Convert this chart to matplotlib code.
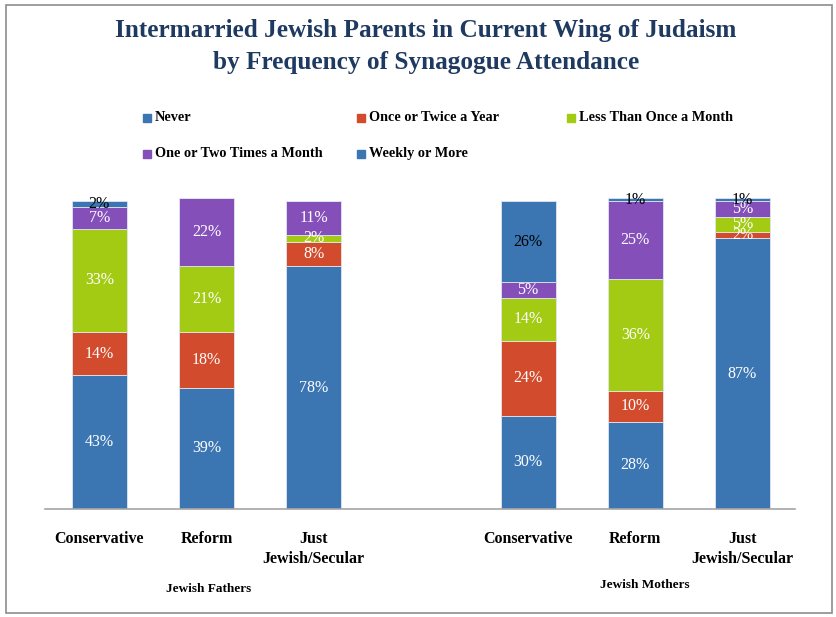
import matplotlib
matplotlib.use("Agg")
import matplotlib.pyplot as plt
from matplotlib.patches import Rectangle

# Stack order bottom to top
series = ["Never", "Once or Twice a Year", "Less Than Once a Month",
          "One or Two Times a Month", "Weekly or More"]
colors = ["#3B76B3", "#D34B2D", "#A3CB14", "#854FBA", "#3B76B3"]
label_colors = ["white", "white", "white", "white", "black"]

categories = ["Conservative", "Reform", "Just\nJewish/Secular",
              "Conservative", "Reform", "Just\nJewish/Secular"]
positions = [0, 1, 2, 4, 5, 6]
groups = ["Jewish Fathers", "Jewish Mothers"]

never = [43, 39, 78, 30, 28, 87]
once_twice_year = [14, 18, 8, 24, 10, 2]
less_than_monthly = [33, 21, 2, 14, 36, 5]
one_two_monthly = [7, 22, 11, 5, 25, 5]
weekly = [2, 0, 0, 26, 1, 1]
values = [never, once_twice_year, less_than_monthly, one_two_monthly, weekly]

SERIF = ["Liberation Serif", "DejaVu Serif"]

fig = plt.figure(figsize=(8.37, 6.17), dpi=100)
ax = fig.add_axes([0.0538, 0.175, 0.896, 0.5041])

bottoms = [0] * len(positions)
for vals, col, lcol in zip(values, colors, label_colors):
    ax.bar(positions, vals, width=0.513, bottom=bottoms, color=col,
           edgecolor="#dfe6ee", linewidth=0.6)
    for x, b, v in zip(positions, bottoms, vals):
        if v > 0:
            ax.text(x, b + v / 2, f"{v}%", ha="center", va="center",
                    color=lcol, fontsize=11.5, family=SERIF, clip_on=False)
    bottoms = [b + v for b, v in zip(bottoms, vals)]

ax.set_xlim(-0.506, 6.49)
ax.set_ylim(0, 100)
ax.set_yticks([])
ax.set_xticks(positions)
ax.set_xticklabels(categories, family=SERIF, fontweight="bold", fontsize=11.5,
                   linespacing=1.35, va="top")
ax.tick_params(axis="x", length=0, pad=16)
for s in ["top", "right", "left"]:
    ax.spines[s].set_visible(False)
ax.spines["bottom"].set_color("#a6a6a6")
ax.spines["bottom"].set_linewidth(1.2)

# Group labels under the categories
fig.text(209 / 837, 1 - 589 / 617, groups[0], ha="center", va="center",
         family=SERIF, fontweight="bold", fontsize=9.5)
fig.text(645 / 837, 1 - 585 / 617, groups[1], ha="center", va="center",
         family=SERIF, fontweight="bold", fontsize=9.5)

# Title
fig.text(426 / 837, 1 - 31 / 617, "Intermarried Jewish Parents in Current Wing of Judaism",
         ha="center", va="center", family=SERIF, fontweight="bold",
         fontsize=18.2, color="#1F3A60")
fig.text(426 / 837, 1 - 63 / 617, "by Frequency of Synagogue Attendance",
         ha="center", va="center", family=SERIF, fontweight="bold",
         fontsize=18.2, color="#1F3A60")

# Legend drawn as swatches with text
legend_pos = [(143, 118), (357, 118), (567, 118), (143, 154), (357, 154)]
for (px, py), name, col in zip(legend_pos, series, colors):
    fig.patches.append(Rectangle((px / 837, 1 - (py + 4) / 617), 8 / 837, 8 / 617,
                                 transform=fig.transFigure, color=col))
    fig.text((px + 12) / 837, 1 - py / 617, name, ha="left", va="center",
             family=SERIF, fontweight="bold", fontsize=10.3)

# Outer frame
fig.patches.append(Rectangle((6 / 837, 1 - 613 / 617), 826 / 837, 608 / 617,
                             transform=fig.transFigure, fill=False,
                             edgecolor="#8c8c8c", linewidth=1.2))

fig.savefig("out.png", dpi=100)
